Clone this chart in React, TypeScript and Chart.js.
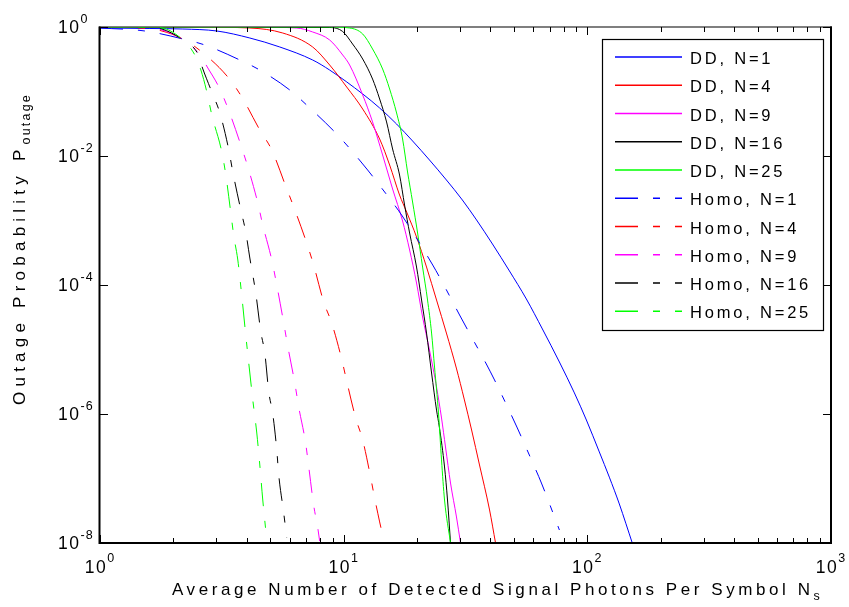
import React, { useEffect, useRef } from 'react';
import { Chart, registerables } from 'chart.js';

Chart.register(...registerables);

const FONT = '"Liberation Sans", Arial, Helvetica, sans-serif';

// ---- data (Ns values, outage probabilities) ----
const ddN1Ns = [1, 1.603, 2.188, 3.017, 4.12, 5.467, 7.46, 8.76, 11.97, 14.05, 16.49, 19.18, 22.5, 26.4, 30.7, 35.1, 40.8, 47.9, 56.2, 65.4, 76.8, 88.5, 99.1, 112.0, 123.1, 135.3, 152.9];
const ddN1P = [0.965, 0.948, 0.931, 0.867, 0.675, 0.49, 0.308, 0.215, 0.0915, 0.0555, 0.0313, 0.0171, 0.00867, 0.00425, 0.00208, 0.00102, 4.32e-4, 1.65e-4, 6.07e-5, 2.08e-5, 6.4e-6, 2.12e-6, 8.07e-7, 2.58e-7, 1.05e-7, 4.03e-8, 1.0e-8];

const ddN4Ns = [1, 2.57, 4.12, 5.623, 7.46, 8.76, 10.29, 11.97, 14.05, 15.44, 16.96, 18.13, 19.91, 21.88, 24.05, 26.4, 29.0, 31.3, 33.5, 36.1, 39.7, 42.0];
const ddN4P = [1, 0.993, 0.965, 0.807, 0.49, 0.2575, 0.1174, 0.0535, 0.01835, 0.00725, 0.00248, 0.001355, 5.55e-4, 1.9e-4, 5.85e-5, 1.8e-5, 5.16e-6, 1.65e-6, 5.65e-7, 1.62e-7, 3.25e-8, 1.0e-8];

const ddN9Ns = [1, 4.12, 6.42, 7.46, 8.76, 9.91, 10.58, 11.97, 13.14, 14.45, 15.88, 17.45, 18.65, 19.91, 21.08, 22.5, 24.05, 25.21, 26.18, 27.45, 29.04, 30.17];
const ddN9P = [1, 1, 0.965, 0.837, 0.629, 0.368, 0.2575, 0.0883, 0.0337, 0.01037, 0.00308, 9.82e-4, 3.49e-4, 1.074e-4, 3.19e-5, 9.82e-6, 2.62e-6, 8.67e-7, 3.08e-7, 8.51e-8, 2.53e-8, 1.0e-8];

const ddN16Ns = [1, 8.76, 9.91, 10.88, 11.97, 13.14, 14.05, 15.0, 15.88, 16.96, 17.78, 18.65, 19.91, 20.88, 21.88, 22.95, 24.05, 24.7, 25.94, 26.68, 27.45];
const ddN16P = [1, 0.982, 0.85, 0.545, 0.319, 0.156, 0.0765, 0.0337, 0.01284, 0.00507, 0.00174, 6.4e-4, 1.9e-4, 5.85e-5, 1.8e-5, 4.32e-6, 1.15e-6, 6.28e-7, 1.51e-7, 4.64e-8, 1.0e-8];

const ddN25Ns = [1, 8.76, 10.58, 11.97, 13.14, 14.45, 15.44, 16.49, 17.45, 18.29, 19.18, 20.11, 21.08, 22.09, 22.95, 23.6, 24.5, 25.21, 25.94, 27.45];
const ddN25P = [1, 1, 0.965, 0.779, 0.456, 0.2233, 0.1093, 0.0464, 0.01835, 0.00565, 0.001936, 6.4e-4, 1.9e-4, 5.85e-5, 1.8e-5, 5.35e-6, 1.04e-6, 1.94e-7, 4.64e-8, 1.0e-8];

const homoN1Ns = [1, 1.529, 2.188, 2.692, 3.748, 4.527, 6.01, 7.12, 9.19, 10.29, 12.54, 14.31, 17.29, 23.2, 25.5, 29.9, 32.8, 38.5, 41.6, 48.3, 51.6, 59.5, 64.8, 76.8];
const homoN1P = [0.965, 0.867, 0.652, 0.526, 0.308, 0.215, 0.1055, 0.0596, 0.0236, 0.01482, 0.00607, 0.00319, 0.001217, 2.04e-4, 1.074e-4, 3.43e-5, 1.8e-5, 5.96e-6, 3.37e-6, 1.04e-6, 6.07e-7, 1.8e-7, 8.51e-8, 1.59e-8];

const homoN4Ns = [1, 1.558, 1.796, 2.188, 2.618, 3.346, 3.819, 4.527, 5.07, 5.78, 6.24, 7.05, 7.53, 8.28, 8.93, 9.81, 10.29, 11.2, 11.97, 12.9, 13.4, 14.05, 14.45];
const homoN4P = [0.993, 0.948, 0.867, 0.652, 0.41, 0.1679, 0.0822, 0.0253, 0.01239, 0.00343, 0.00162, 4.48e-4, 2.04e-4, 5.45e-5, 2.58e-5, 7.13e-6, 3.25e-6, 8.67e-7, 3.95e-7, 1.05e-7, 4.99e-8, 2.12e-8, 1.33e-8];

const homoN9Ns = [1, 1.603, 1.796, 2.188, 2.57, 2.771, 3.075, 3.346, 3.784, 4.044, 4.443, 4.656, 5.07, 5.314, 5.675, 5.895, 6.3, 6.54, 6.98, 7.19, 7.53, 7.83, 7.97];
const homoN9P = [0.998, 0.965, 0.898, 0.64, 0.368, 0.2314, 0.1174, 0.0555, 0.01481, 0.00675, 0.001868, 8.51e-4, 2.44e-4, 1.0e-4, 2.58e-5, 1.13e-5, 3.03e-6, 1.28e-6, 3.55e-7, 1.51e-7, 3.88e-8, 1.71e-8, 1.07e-8];

const homoN16Ns = [1, 1.603, 1.796, 2.188, 2.521, 2.643, 2.877, 3.104, 3.378, 3.508, 3.784, 3.964, 4.12, 4.357, 4.571, 4.746, 4.928, 5.117, 5.314, 5.415, 5.675, 5.84];
const homoN16P = [1, 0.982, 0.931, 0.629, 0.3815, 0.2233, 0.0982, 0.0464, 0.01239, 0.00565, 0.001455, 6.64e-4, 2.62e-4, 7.52e-5, 1.87e-5, 8.83e-6, 2.19e-6, 1.0e-6, 2.77e-7, 1.13e-7, 2.92e-8, 1.2e-8];

const homoN25Ns = [1, 1.603, 1.796, 2.188, 2.451, 2.594, 2.745, 2.877, 3.162, 3.284, 3.443, 3.541, 3.678, 3.819, 3.964, 4.12, 4.237, 4.4, 4.527, 4.656, 4.835];
const homoN25P = [1, 0.989, 0.965, 0.629, 0.368, 0.2155, 0.0982, 0.0432, 0.01153, 0.00507, 0.001306, 5.75e-4, 2.44e-4, 6.75e-5, 1.68e-5, 4.32e-6, 1.65e-6, 5.07e-7, 1.62e-7, 4.64e-8, 1.11e-8];

const seriesLabels = ['DD, N=1', 'DD, N=4', 'DD, N=9', 'DD, N=16', 'DD, N=25', 'Homo, N=1', 'Homo, N=4', 'Homo, N=9', 'Homo, N=16', 'Homo, N=25'];
const seriesNs = [ddN1Ns, ddN4Ns, ddN9Ns, ddN16Ns, ddN25Ns, homoN1Ns, homoN4Ns, homoN9Ns, homoN16Ns, homoN25Ns];
const seriesP = [ddN1P, ddN4P, ddN9P, ddN16P, ddN25P, homoN1P, homoN4P, homoN9P, homoN16P, homoN25P];
const seriesColors = ['#0000ff', '#ff0000', '#ff00ff', '#000000', '#00ff00', '#0000ff', '#ff0000', '#ff00ff', '#000000', '#00ff00'];
const seriesDashed = [false, false, false, false, false, true, true, true, true, true];

const xTickExps = [0, 1, 2, 3];
const yTickExps = [0, -2, -4, -6, -8];

const xTitleMain = 'Average Number of Detected Signal Photons Per Symbol N';
const xTitleSub = 's';
const yTitleMain = 'Outage Probability P';
const yTitleSub = 'outage';

const DASH = [23, 15, 7, 15];

type Part = { text: string; size: number; spacing: number; dy: number };

function naturalWidth(ctx: CanvasRenderingContext2D, text: string, size: number) {
  ctx.font = `${size}px ${FONT}`;
  (ctx as any).letterSpacing = '0px';
  return ctx.measureText(text).width;
}

function partWidth(ctx: CanvasRenderingContext2D, p: Part) {
  return naturalWidth(ctx, p.text, p.size) + p.spacing * p.text.length;
}

function partsWidth(ctx: CanvasRenderingContext2D, parts: Part[]) {
  return parts.reduce((s, p) => s + partWidth(ctx, p), 0);
}

function drawParts(ctx: CanvasRenderingContext2D, parts: Part[], x: number, y: number) {
  let cx = x;
  for (const p of parts) {
    const w = partWidth(ctx, p);
    ctx.font = `${p.size}px ${FONT}`;
    (ctx as any).letterSpacing = `${p.spacing}px`;
    ctx.fillText(p.text, cx, y + p.dy);
    (ctx as any).letterSpacing = '0px';
    cx += w;
  }
}

// title whose letter spacing is chosen so that it spans the requested length
function fittedTitle(ctx: CanvasRenderingContext2D, main: string, sub: string, length: number): Part[] {
  const mainSize = 17;
  const subSize = 12.5;
  const subSpacing = 2.2;
  const subW = naturalWidth(ctx, sub, subSize) + subSpacing * sub.length;
  const mainNat = naturalWidth(ctx, main, mainSize);
  const spacing = Math.max(0, (length - subW - mainNat) / main.length);
  return [
    { text: main, size: mainSize, spacing, dy: 0 },
    { text: sub, size: subSize, spacing: subSpacing, dy: 5 },
  ];
}

const decorPlugin = {
  id: 'decor',
  beforeDraw(chart: any) {
    const ctx = chart.ctx as CanvasRenderingContext2D;
    ctx.save();
    ctx.fillStyle = '#ffffff';
    ctx.fillRect(0, 0, chart.width, chart.height);
    ctx.restore();
  },
  beforeDatasetsDraw(chart: any) {
    const ctx = chart.ctx as CanvasRenderingContext2D;
    const { left, right, top } = chart.chartArea;
    ctx.save();
    ctx.strokeStyle = '#000';
    ctx.lineWidth = 1.2;
    ctx.beginPath();
    ctx.moveTo(left - 1, top);
    ctx.lineTo(right + 1, top);
    ctx.stroke();
    ctx.restore();
  },
  afterDraw(chart: any) {
    const ctx = chart.ctx as CanvasRenderingContext2D;
    const xs = chart.scales.x;
    const ys = chart.scales.y;
    const { left, right, top, bottom } = chart.chartArea;
    ctx.save();
    ctx.strokeStyle = '#000';
    ctx.fillStyle = '#000';
    ctx.textAlign = 'left';
    ctx.textBaseline = 'alphabetic';

    // frame (left, bottom, right)
    ctx.lineWidth = 2;
    ctx.beginPath();
    ctx.moveTo(left - 0.5, top - 0.5);
    ctx.lineTo(left - 0.5, bottom);
    ctx.lineTo(right, bottom);
    ctx.lineTo(right, top - 0.5);
    ctx.stroke();

    // x ticks (bottom and top, inward)
    ctx.lineWidth = 1;
    for (let e = 0; e < 3; e++) {
      for (let m = 1; m <= 9; m++) {
        const v = m * Math.pow(10, e);
        const px = Math.round(xs.getPixelForValue(v)) + 0.5;
        const len = m === 1 ? 8 : 5;
        ctx.beginPath();
        ctx.moveTo(px, bottom);
        ctx.lineTo(px, bottom - len);
        ctx.moveTo(px, top);
        ctx.lineTo(px, top + len);
        ctx.stroke();
      }
    }
    // y ticks (left and right, inward)
    for (const e of yTickExps) {
      const py = Math.round(ys.getPixelForValue(Math.pow(10, e))) + 0.5;
      ctx.beginPath();
      ctx.moveTo(left, py);
      ctx.lineTo(left + 8, py);
      ctx.moveTo(right, py);
      ctx.lineTo(right - 8, py);
      ctx.stroke();
    }

    // x tick labels
    for (const e of xTickExps) {
      const px = xs.getPixelForValue(Math.pow(10, e));
      const parts: Part[] = [
        { text: '10', size: 17.5, spacing: 1.5, dy: 0 },
        { text: String(e), size: 12.5, spacing: 1, dy: -11 },
      ];
      const w = partsWidth(ctx, parts);
      drawParts(ctx, parts, px - w / 2, 573);
    }
    // y tick labels
    for (const e of yTickExps) {
      const py = ys.getPixelForValue(Math.pow(10, e));
      const parts: Part[] = [
        { text: '10', size: 17.5, spacing: 1.5, dy: 0 },
        { text: e === 0 ? '0' : `-${-e}`, size: 12.5, spacing: 1, dy: -10 },
      ];
      drawParts(ctx, parts, 58, py + 6);
    }

    // x title: spans from x=172 to x=822
    const xParts = fittedTitle(ctx, xTitleMain, xTitleSub, 650);
    drawParts(ctx, xParts, 172, 595);

    // y title: spans from y=405 up to y=93
    const yParts = fittedTitle(ctx, yTitleMain, yTitleSub, 312);
    ctx.save();
    ctx.translate(25, 405);
    ctx.rotate(-Math.PI / 2);
    drawParts(ctx, yParts, 0, 0);
    ctx.restore();

    // legend
    ctx.fillStyle = '#fff';
    ctx.fillRect(602, 39, 221, 291);
    ctx.lineWidth = 1.2;
    ctx.strokeStyle = '#000';
    ctx.strokeRect(602.5, 39.5, 221, 291);
    for (let i = 0; i < seriesLabels.length; i++) {
      const cy = 57 + i * 28.25;
      ctx.strokeStyle = seriesColors[i];
      ctx.lineWidth = 1.3;
      ctx.setLineDash(seriesDashed[i] ? DASH : []);
      ctx.beginPath();
      ctx.moveTo(615, cy);
      ctx.lineTo(682, cy);
      ctx.stroke();
      ctx.setLineDash([]);
      ctx.fillStyle = '#000';
      drawParts(ctx, [{ text: seriesLabels[i], size: 16.5, spacing: 2.8, dy: 0 }], 690, cy + 7);
    }
    ctx.restore();
  },
};

export default function App() {
  const canvasRef = useRef<HTMLCanvasElement | null>(null);

  useEffect(() => {
    const canvas = canvasRef.current;
    if (!canvas) return;
    const datasets = seriesLabels.map((label, i) => ({
      label,
      data: seriesNs[i].map((x, j) => ({ x, y: seriesP[i][j] })),
      borderColor: seriesColors[i],
      backgroundColor: seriesColors[i],
      borderWidth: 1,
      borderDash: seriesDashed[i] ? DASH : [],
      pointRadius: 0,
      fill: false,
      cubicInterpolationMode: 'monotone' as const,
      order: 9 - i,
    }));
    const chart = new Chart(canvas, {
      type: 'line',
      data: { datasets },
      options: {
        animation: false,
        responsive: false,
        devicePixelRatio: 1,
        parsing: false as any,
        layout: { padding: { left: 100, right: 18, top: 27, bottom: 64 } },
        plugins: { legend: { display: false }, tooltip: { enabled: false } },
        scales: {
          x: { type: 'logarithmic', min: 1, max: 1000, display: false },
          y: { type: 'logarithmic', min: 1e-8, max: 1, display: false },
        },
      },
      plugins: [decorPlugin],
    });
    return () => chart.destroy();
  }, []);

  return (
    <div style={{ position: 'fixed', left: 0, top: 0, width: 849, height: 607, background: '#fff' }}>
      <canvas ref={canvasRef} width={849} height={607} style={{ display: 'block' }} />
    </div>
  );
}
